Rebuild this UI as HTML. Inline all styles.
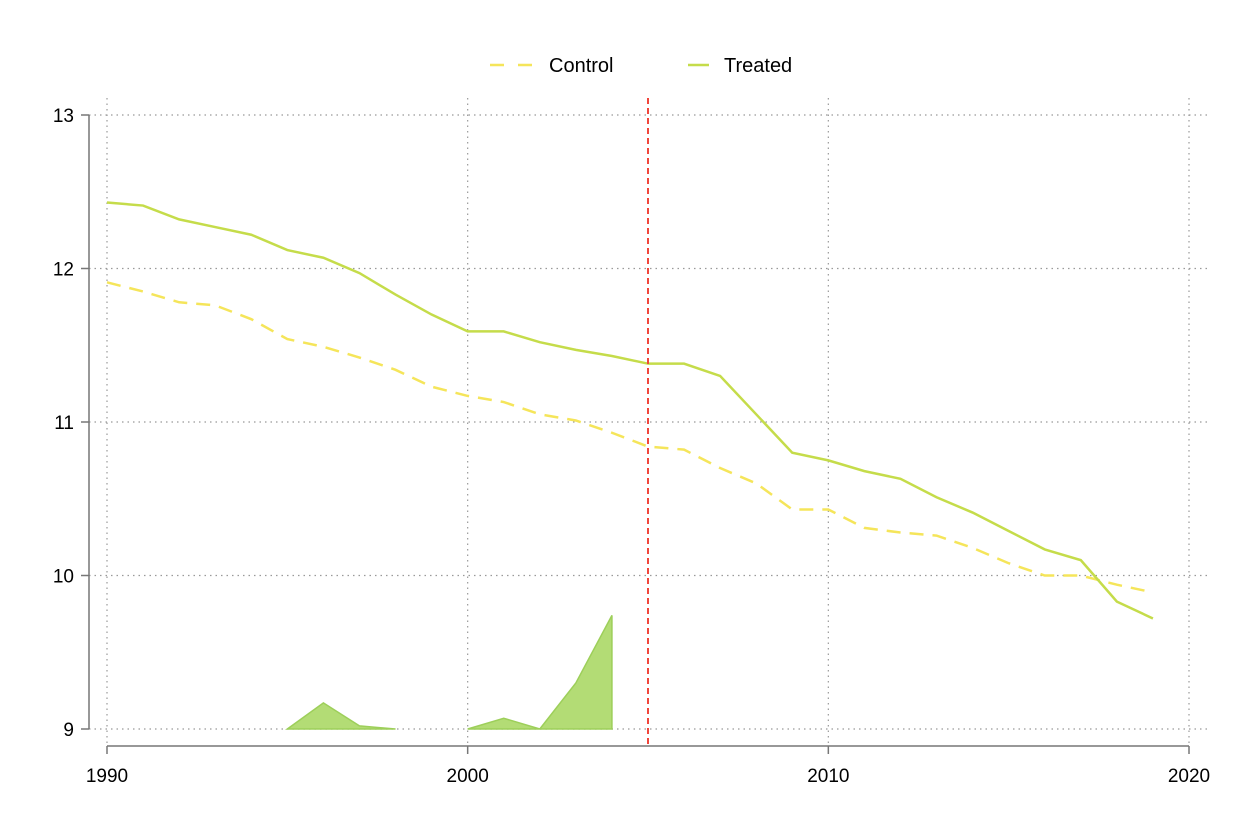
<!DOCTYPE html>
<html><head><meta charset="utf-8"><style>
body{margin:0;background:#fff}
svg{display:block;font-family:"Liberation Sans",sans-serif}
</style></head><body>
<svg id="chart" width="1238" height="826">
<g id="grid"></g>
<g id="axes"></g>
<g id="marks"></g>
<g id="legend">
<line x1="490" y1="65" x2="532" y2="65" stroke="#f5e55a" stroke-width="2.5" stroke-dasharray="14,14"/>
<text x="549" y="72" font-size="20" fill="#000">Control</text>
<line x1="688" y1="65" x2="709" y2="65" stroke="#c5dc4a" stroke-width="2.5"/>
<text x="724" y="72" font-size="20" fill="#000">Treated</text>
</g>
</svg>
<script>
const years=[1990,1991,1992,1993,1994,1995,1996,1997,1998,1999,2000,2001,2002,2003,2004,2005,2006,2007,2008,2009,2010,2011,2012,2013,2014,2015,2016,2017,2018,2019];
const treated=[12.43,12.41,12.32,12.27,12.22,12.12,12.07,11.97,11.83,11.70,11.59,11.59,11.52,11.47,11.43,11.38,11.38,11.30,11.05,10.80,10.75,10.68,10.63,10.51,10.41,10.29,10.17,10.10,9.83,9.72];
const control=[11.91,11.85,11.78,11.76,11.67,11.54,11.49,11.42,11.34,11.23,11.17,11.13,11.05,11.01,10.93,10.84,10.82,10.70,10.60,10.43,10.43,10.31,10.28,10.26,10.18,10.08,10.00,10.00,9.94,9.89];
const areaYears=[1995,1996,1997,1998,1999,2000,2001,2002,2003,2004];
const areaVals=[0,0.17,0.02,0,null,0,0.07,0,0.30,0.74];
const xTicks=[1990,2000,2010,2020];
const yTicks=[9,10,11,12,13];
const treatYear=2005;
const NS='http://www.w3.org/2000/svg';
const x=v=>107+(v-1990)*(1189-107)/30;
const y=v=>729-(v-9)*(729-115)/4;
function mk(tag,attrs,parent){const e=document.createElementNS(NS,tag);for(const k in attrs)e.setAttribute(k,attrs[k]);document.getElementById(parent).appendChild(e);return e;}
yTicks.forEach(t=>{
  const g=mk('line',{x1:89,x2:1210,y1:y(t),y2:y(t),stroke:'#999','stroke-width':1.2,'stroke-dasharray':'1.5,4'},'grid');
  
  
  const tk=mk('line',{x1:81,x2:89,y1:y(t),y2:y(t),stroke:'#777','stroke-width':1.5},'axes');
  
  
  const l=mk('text',{x:74,y:y(t)+7,'font-size':19,'text-anchor':'end'},'axes');l.textContent=t;
  
  
});
xTicks.forEach(t=>{
  const g=mk('line',{x1:x(t),x2:x(t),y1:98,y2:746,stroke:'#999','stroke-width':1.2,'stroke-dasharray':'1.5,4'},'grid');
  
  
  const tk=mk('line',{x1:x(t),x2:x(t),y1:746,y2:754,stroke:'#777','stroke-width':1.5},'axes');
  
  
  const l=mk('text',{x:x(t),y:782,'font-size':19,'text-anchor':'middle'},'axes');l.textContent=t;
  
  
});
const ya=mk('line',{x1:89,x2:89,y1:y(13),y2:y(9),stroke:'#777','stroke-width':1.5},'axes');


const xa=mk('line',{x1:x(1990),x2:x(2020),y1:746,y2:746,stroke:'#777','stroke-width':1.5},'axes');


let seg=[];const segs=[];
areaYears.forEach((yr,i)=>{if(areaVals[i]===null){if(seg.length)segs.push(seg);seg=[];}else seg.push([yr,areaVals[i]]);});
if(seg.length)segs.push(seg);
segs.forEach(s=>{
  let pts=s.map(p=>x(p[0])+','+y(9+p[1]));
  pts.push(x(s[s.length-1][0])+','+y(9));pts.push(x(s[0][0])+','+y(9));
  const p=mk('polygon',{points:pts.join(' '),fill:'#b3dc75',stroke:'#9dcf5a','stroke-width':1.5},'marks');
  
  
});
const pc=mk('polyline',{points:years.map((yr,i)=>x(yr)+','+y(control[i])).join(' '),fill:'none',stroke:'#f5e55a','stroke-width':2.5,'stroke-dasharray':'14,9'},'marks');


const pt=mk('polyline',{points:years.map((yr,i)=>x(yr)+','+y(treated[i])).join(' '),fill:'none',stroke:'#c5dc4a','stroke-width':2.5},'marks');


const vl=mk('line',{x1:x(treatYear),x2:x(treatYear),y1:98,y2:746,stroke:'#f0463c','stroke-width':2,'stroke-dasharray':'6,4'},'marks');


</script>
</body></html>
